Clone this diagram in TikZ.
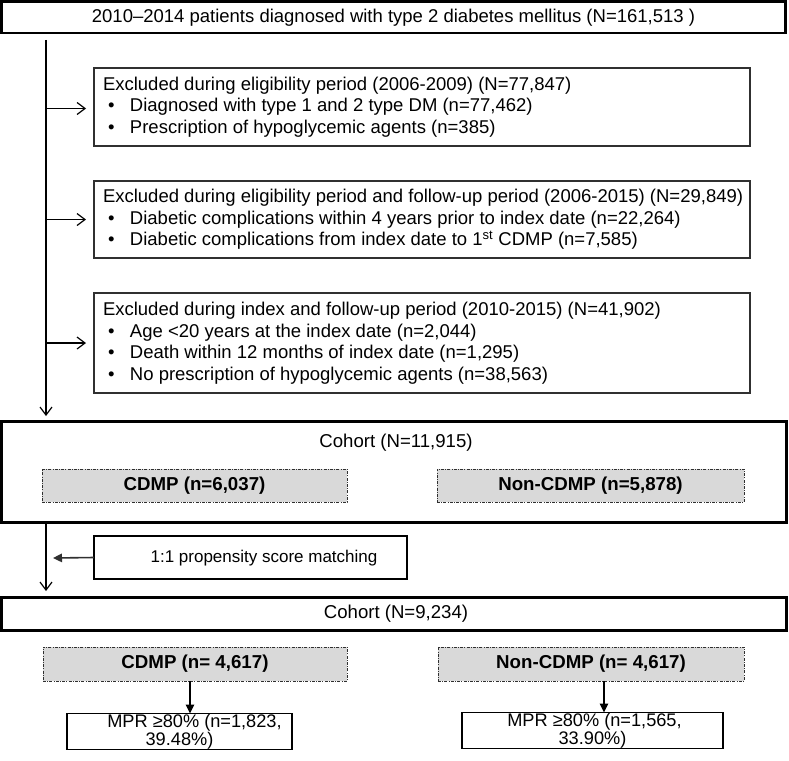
\documentclass[tikz,border=0pt]{standalone}
\usepackage{fontspec}
\setmainfont{Liberation Sans}
\usetikzlibrary{arrows.meta,calc}
\definecolor{boxgray}{HTML}{D9D9D9}
\definecolor{edge}{HTML}{303030}
\begin{document}
\begin{tikzpicture}[x=1pt,y=-1pt,
  every node/.style={inner sep=0pt,outer sep=0pt},
  topbox/.style={draw=black,line width=2.4pt,anchor=north west},
  exbox/.style={draw=edge,line width=1.3pt,anchor=north west},
  extext/.style={anchor=west,align=left,font=\fontsize{18.5}{21.5}\selectfont},
  cohortbox/.style={draw=black,line width=3pt,anchor=north west},
  grpbox/.style={draw=edge,line width=0.9pt,fill=boxgray,anchor=north west,
    dash pattern=on 3pt off 1.2pt on 1pt off 1.2pt,font=\fontsize{18.7}{20}\selectfont\bfseries},
  mprbox/.style={draw=black,line width=1.8pt,anchor=north west,align=center,
    font=\fontsize{18.2}{17.8}\selectfont},
  psbox/.style={draw=black,line width=1.8pt,anchor=north west},
  flow/.style={draw=black,line width=1.3pt},
  openhead/.style={-{Straight Barb[length=8pt,width=12pt,line width=1.2pt]}},
  fillhead/.style={-{Triangle[length=9pt,width=8.5pt]}},
  bigtext/.style={font=\fontsize{18.6}{20}\selectfont}
]
\useasboundingbox (0,0) rectangle (789,760);
\newcommand{\bul}{\makebox[27pt][l]{\hspace{5pt}\textbullet}}

% top box
\node[topbox,minimum width=784,minimum height=31.5,font=\fontsize{18.5}{20}\selectfont] (top) at (1.5,1.5)
  {2010–2014 patients diagnosed with type 2 diabetes mellitus (N=161,513 )};

% exclusion boxes
\node[exbox,minimum width=656,minimum height=78] (e1) at (94,68) {};
\node[extext] (e1t) at ($(e1.west)+(9,0)$)
  {Excluded during eligibility period (2006-2009) (N=77,847)\\
   \bul Diagnosed with type 1 and 2 type DM (n=77,462)\\
   \bul Prescription of hypoglycemic agents (n=385)};
\node[exbox,minimum width=656,minimum height=77] (e2) at (94,181) {};
\node[extext] (e2t) at ($(e2.west)+(9,0)$)
  {Excluded during eligibility period and follow-up period (2006-2015) (N=29,849)\\
   \bul Diabetic complications within 4 years prior to index date (n=22,264)\\
   \bul Diabetic complications from index date to 1\textsuperscript{st} CDMP (n=7,585)};
\node[exbox,minimum width=656,minimum height=100] (e3) at (94,293) {};
\node[extext] (e3t) at ($(e3.west)+(9,0)$)
  {Excluded during index and follow-up period (2010-2015) (N=41,902)\\
   \bul Age {<}20 years at the index date (n=2,044)\\
   \bul Death within 12 months of index date (n=1,295)\\
   \bul No prescription of hypoglycemic agents (n=38,563)};

% cohort 1
\node[cohortbox,minimum width=785,minimum height=101] (c1) at (1.5,421) {};
\node[bigtext] (c1t) at (396,443) {Cohort (N=11,915)};
\node[grpbox,minimum width=305,minimum height=33] (g1) at (42,469) {CDMP (n=6,037)};
\node[grpbox,minimum width=307,minimum height=33] (g2) at (437,469) {Non-CDMP (n=5,878)};

% propensity
\node[psbox,minimum width=313,minimum height=43] (ps) at (94,536) {};
\node[font=\fontsize{17}{18}\selectfont] (pst) at (264,558) {1:1 propensity score matching};

% cohort 2
\node[cohortbox,minimum width=785,minimum height=33] (c2) at (1.5,597) {};
\node[bigtext] (c2t) at (396,613.5) {Cohort (N=9,234)};
\node[grpbox,minimum width=304,minimum height=34] (g3) at (43,647) {CDMP (n= 4,617)};
\node[grpbox,minimum width=306,minimum height=34] (g4) at (438,647) {Non-CDMP (n= 4,617)};

% MPR
\node[mprbox,minimum width=225,minimum height=36] (m1) at (67,713.5) {\hspace*{30pt}MPR ≥80\% (n=1,823,\\39.48\%)};
\node[mprbox,minimum width=261,minimum height=36] (m2) at (462,712.5) {\hspace*{4pt}MPR ≥80\% (n=1,565,\\33.90\%)};

% main flow line
\coordinate (ls) at (46,40);
\draw[flow,openhead] (ls) -- ($(c1.north -| ls)+(0,-5)$);
\draw[flow,openhead] (ls |- e1.west) ++(0,1.5) -- ($(e1.west)+(-8,1.5)$);
\draw[flow,openhead] (ls |- e2.west) -- ($(e2.west)+(-8,0)$);
\draw[flow,openhead] (ls |- e3.west) -- ($(e3.west)+(-8,0)$);

% second segment
\draw[flow,openhead] (c1.south -| ls) -- ($(c2.north -| ls)+(0,-6)$);
\coordinate (psend) at (53,558);
\draw[draw=edge,line width=1.6pt,fillhead] (ps.west) -- (psend);

% arrows to MPR
\coordinate (a1) at (190,0);
\coordinate (a2) at (604,0);
\draw[flow,fillhead] (g3.south -| a1) -- (m1.north -| a1);
\draw[flow,fillhead] (g4.south -| a2) -- (m2.north -| a2);
\end{tikzpicture}
\end{document}
